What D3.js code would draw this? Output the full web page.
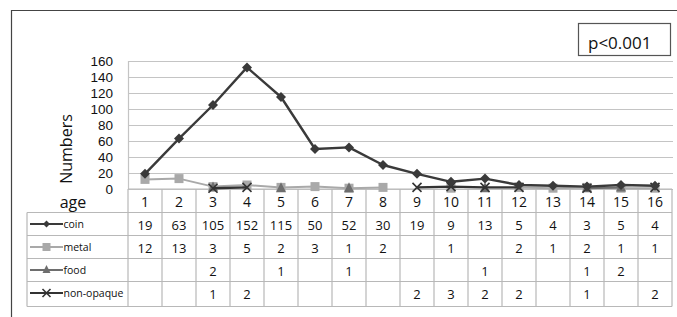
<!DOCTYPE html>
<html><head><meta charset="utf-8">
<script src="https://cdn.jsdelivr.net/npm/d3@7"></script>
<style>html,body{margin:0;padding:0;background:#fff;}svg{display:block;font-family:"Open Sans",sans-serif;}</style>
</head><body>
<svg id="c" width="677" height="317"></svg>
<script>
const ages = ["1","2","3","4","5","6","7","8","9","10","11","12","13","14","15","16"];
const coin = [19,63,105,152,115,50,52,30,19,9,13,5,4,3,5,4];
const metal = [12,13,3,5,2,3,1,2,null,1,null,2,1,2,1,1];
const food = [null,null,2,null,1,null,1,null,null,null,1,null,null,1,2,null];
const nonOpaque = [null,null,1,2,null,null,null,null,2,3,2,2,null,1,null,2];
const yTicks = [0,20,40,60,80,100,120,140,160];
const seriesNames = ["coin","metal","food","non-opaque"];
const pText = "p<0.001";

const svg = d3.select("#c");
const L = 128, R = 672, T = 61, B = 189;
const x = d3.scaleBand().domain(ages).range([L, R]).padding(0);
const y = d3.scaleLinear().domain([0, 160]).range([B, T]);

// frame
svg.append("path").attr("d", "M11.5,317 V10.5 H677").attr("fill","none").attr("stroke","#444").attr("stroke-width",1.2);

// gridlines
svg.append("g").selectAll("line").data(yTicks).join("line")
  .attr("x1", L).attr("x2", R + 1).attr("y1", d => Math.round(y(d)) + 0.5).attr("y2", d => Math.round(y(d)) + 0.5)
  .attr("stroke", "#c4c4c4").attr("stroke-width", 1.2);
svg.append("line").attr("x1", L + 0.5).attr("x2", L + 0.5).attr("y1", T).attr("y2", B).attr("stroke", "#c4c4c4").attr("stroke-width",1.2);

// y axis labels
const yAxis = d3.axisLeft(y).tickValues(yTicks).tickSize(0).tickPadding(0);
const ga = svg.append("g").attr("transform", `translate(113,0)`).call(yAxis);
ga.select(".domain").remove();
ga.selectAll("text").attr("font-size", 13.5).attr("fill", "#111").attr("font-family", "Liberation Sans, Arial, sans-serif").attr("dy", "0.36em");

svg.append("text").attr("transform", "translate(72,149) rotate(-90)").attr("text-anchor", "middle")
  .attr("font-size", 16).attr("fill", "#111").text("Numbers");

// p box
svg.append("rect").attr("x", 578.5).attr("y", 23.5).attr("width", 92).attr("height", 32).attr("fill", "#fff").attr("stroke", "#555").attr("stroke-width", 1.2);
svg.append("text").attr("x", 588).attr("y", 49).attr("font-size", 17).attr("fill", "#111").text(pText);

// table
const rowY = [189, 212.5, 235.5, 258.5, 281.5, 306.5];
const tbl = svg.append("g");
const gridCol = "#b8b8b8";
rowY.forEach((ry, i) => {
  tbl.append("line").attr("x1", i === 0 ? L : 27).attr("x2", R).attr("y1", ry).attr("y2", ry).attr("stroke", gridCol).attr("stroke-width", 1.2);
});
ages.forEach((a) => {
  tbl.append("line").attr("x1", x(a)).attr("x2", x(a)).attr("y1", rowY[0]).attr("y2", rowY[5]).attr("stroke", gridCol).attr("stroke-width", 1.2);
});
tbl.append("line").attr("x1", R).attr("x2", R).attr("y1", rowY[0]).attr("y2", rowY[5]).attr("stroke", gridCol).attr("stroke-width", 1.2);
tbl.append("line").attr("x1", 27).attr("x2", 27).attr("y1", rowY[1]).attr("y2", rowY[5]).attr("stroke", gridCol).attr("stroke-width", 1.2);

svg.append("text").attr("x", 73).attr("y", 208).attr("text-anchor", "middle").attr("font-size", 16).attr("fill", "#111").text("age");

tbl.selectAll("text.h").data(ages).join("text").attr("class", "h")
  .attr("x", d => x(d) + x.bandwidth() / 2).attr("y", 207).attr("text-anchor", "middle")
  .attr("font-size", 14).attr("fill", "#111").text(d => d);

const allSeries = [coin, metal, food, nonOpaque];
allSeries.forEach((s, r) => {
  tbl.selectAll("text.v" + r).data(s).join("text").attr("class", "v" + r)
    .attr("x", (d, i) => x(ages[i]) + x.bandwidth() / 2).attr("y", rowY[r + 1] + 17).attr("text-anchor", "middle")
    .attr("font-size", 13).attr("fill", "#111").text(d => d == null ? "" : d);
});

const styles = [
  {stroke: "#3a3a3a", width: 2.4, marker: "diamond", fill: "#3a3a3a", size: 5},
  {stroke: "#a9a9a9", width: 2, marker: "square", fill: "#a9a9a9", size: 4.5},
  {stroke: "#6e6e6e", width: 2, marker: "triangle", fill: "#6e6e6e", size: 5},
  {stroke: "#333", width: 2.4, marker: "x", fill: "none", size: 4.5}
];

function drawMarker(g, type, cx, cy, st) {
  const s = st.size;
  if (type === "diamond") g.append("path").attr("d", `M${cx},${cy - s} L${cx + s},${cy} L${cx},${cy + s} L${cx - s},${cy} Z`).attr("fill", st.fill);
  else if (type === "square") g.append("rect").attr("x", cx - s).attr("y", cy - s).attr("width", 2 * s).attr("height", 2 * s).attr("fill", st.fill);
  else if (type === "triangle") g.append("path").attr("d", `M${cx},${cy - s - 1} L${cx + s},${cy + s - 1} L${cx - s},${cy + s - 1} Z`).attr("fill", st.fill);
  else g.append("path").attr("d", `M${cx - s},${cy - s} L${cx + s},${cy + s} M${cx - s},${cy + s} L${cx + s},${cy - s}`).attr("stroke", st.stroke).attr("stroke-width", 1.6).attr("fill", "none");
}

const lineGen = d3.line().defined(d => d.v != null).x(d => x(d.a) + x.bandwidth() / 2).y(d => y(d.v));
const plotG = svg.append("g");
[1, 2, 3, 0].forEach(r => {
  const s = allSeries[r], st = styles[r];
  const pts = s.map((v, i) => ({a: ages[i], v}));
  plotG.append("path").datum(pts).attr("d", lineGen).attr("fill", "none").attr("stroke", st.stroke).attr("stroke-width", st.width).attr("stroke-linejoin", "round");
  pts.forEach(p => { if (p.v != null) drawMarker(plotG, st.marker, x(p.a) + x.bandwidth() / 2, y(p.v), st); });
});

seriesNames.forEach((n, r) => {
  const cy = rowY[r + 1] + 11.5;
  const st = styles[r];
  const g = svg.append("g");
  g.append("line").attr("x1", 30).attr("x2", 63).attr("y1", cy).attr("y2", cy).attr("stroke", st.stroke).attr("stroke-width", 2);
  drawMarker(g, st.marker, 46.5, cy, Object.assign({}, st, {size: r === 0 ? 3.5 : 4}));
  g.append("text").attr("x", 63.5).attr("y", cy + 4).attr("font-size", 10.5).attr("fill", "#111").text(n);
});
</script>
</body></html>
